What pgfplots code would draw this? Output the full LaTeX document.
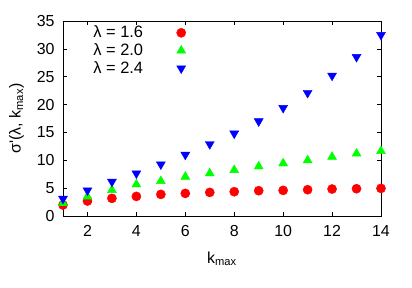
\documentclass[border=0pt]{standalone}
\usepackage{fontspec}
\setmainfont{Liberation Sans}
\newfontfamily\plainfont{Liberation Sans}
\usepackage{pgfplots}
\pgfplotsset{compat=1.18}
\begin{document}
\fontsize{16}{19}\selectfont
\begin{tikzpicture}
\path[use as bounding box] (-63bp,-72bp) rectangle (349bp,216bp);
\begin{axis}[
  at={(0,0)}, anchor=south west,
  scale only axis, width=318bp, height=195bp,
  xmin=1, xmax=14, ymin=0, ymax=35,
  xtick={2,4,...,14}, ytick={0,5,...,35},
  tick align=inside, tick pos=both,
  major tick length=4bp,
  axis line style={black, line width=0.7bp},
  every tick/.style={black, line width=0.7bp},
  /pgf/number format/assume math mode=true,
  tick label style={font=\fontsize{16}{19}\selectfont},
  xticklabel style={yshift=-4bp},
  yticklabel style={xshift=-3bp},
  label style={font=\fontsize{16}{19}\selectfont},
  xlabel={k\textsubscript{max}},
  ylabel={σ{\plainfont\symbol{39}}(λ, k\textsubscript{max})},
  xlabel style={yshift=-4bp},
  ylabel style={yshift=2bp},
  legend style={at={(rel axis cs:0.09,0.985)}, anchor=north west, draw=none, fill=none,
    font=\fontsize{16.5}{19}\selectfont, row sep=0.5bp, inner sep=0pt,
    nodes={inner sep=1.5bp}},
  legend cell align=left,
  legend plot pos=right,
]
\addplot[only marks, mark=*, mark size=4.6bp, draw=red, fill=red] coordinates {
(1,1.97)(2,2.69)(3,3.17)(4,3.52)(5,3.88)(6,4.06)(7,4.24)(8,4.36)(9,4.54)(10,4.6)(11,4.72)(12,4.84)(13,4.9)(14,4.96)};
\addlegendentry{λ = 1.6\hspace*{32bp}}
\addplot[only marks, mark=triangle*, mark size=5.2bp, draw=green, fill=green] coordinates {
(1,2.3)(2,3.5)(3,4.66)(4,5.67)(5,6.27)(6,7.05)(7,7.65)(8,8.24)(9,8.9)(10,9.44)(11,10.0)(12,10.6)(13,11.2)(14,11.65)};
\addlegendentry{λ = 2.0\hspace*{32bp}}
\addplot[only marks, mark=triangle*, mark options={rotate=180}, mark size=5.2bp, draw=blue, fill=blue] coordinates {
(1,3.1)(2,4.6)(3,6.15)(4,7.65)(5,9.26)(6,11.0)(7,12.9)(8,14.8)(9,17.0)(10,19.4)(11,22.1)(12,25.2)(13,28.55)(14,32.5)};
\addlegendentry{λ = 2.4\hspace*{32bp}}
\end{axis}
\end{tikzpicture}
\end{document}
